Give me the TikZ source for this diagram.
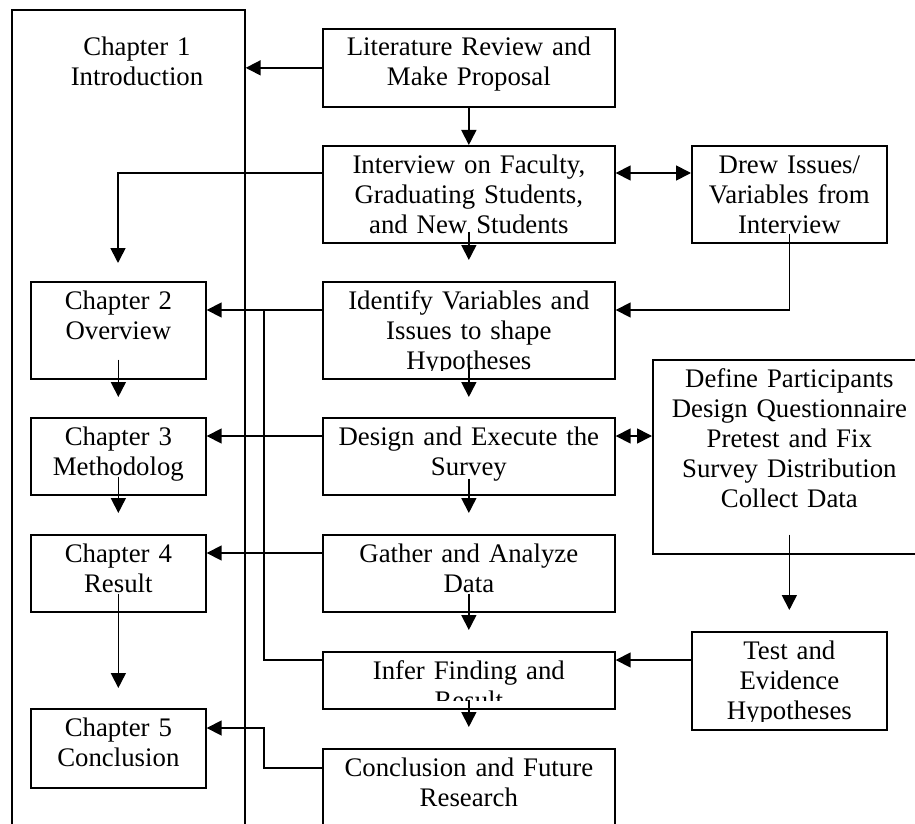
\documentclass[tikz,border=0pt]{standalone}
\usepackage{fontspec}
\setmainfont{Liberation Serif}
\usetikzlibrary{arrows.meta,calc}

% text of a stage box, cut off by the box like in a text frame
\newcommand{\stagetext}[2]{%
  \begin{scope}
    \clip (#1.north west) rectangle ([yshift=4.5pt]#1.south east);
    \node[stagetext] (#1-t) at ([yshift=-14pt]#1.north) {#2};
  \end{scope}}

\begin{document}
\begin{tikzpicture}[x=0.5pt,y=-0.5pt,
	stage/.style 2 args={draw,line width=0.85pt,anchor=north west,inner sep=0pt,minimum width=#1,minimum height=#2},
	stagetext/.style={anchor=base,inner sep=0pt,text width=220pt,align=center,font=\fontsize{13.4}{15}\selectfont},
	link/.style={line width=0.85pt},
	arr/.style={link,-{Triangle[length=7.5pt,width=7.5pt]}},
	dblarr/.style={link,{Triangle[length=7.5pt,width=7.5pt]}-{Triangle[length=7.5pt,width=7.5pt]}}]
	\fill[white] (0,0) rectangle (915,824);
	\useasboundingbox (0,0) rectangle (915,824);

	% left column: chapters
	\node[stage={116.5pt}{415.5pt}] (ch1) at (11,9) {};
	\node[stagetext] (ch1-t) at (137,56) {Chapter 1\\Introduction};
	\node[stage={87.5pt}{48.5pt}] (ch2) at (30,281) {};
	\node[stage={87.5pt}{38.5pt}] (ch3) at (30,417) {};
	\node[stage={87.5pt}{38.5pt}] (ch4) at (30,534) {};
	\node[stage={87.5pt}{39.5pt}] (ch5) at (30,708) {};
	\stagetext{ch2}{Chapter 2\\Overview}
	\stagetext{ch3}{Chapter 3\\Methodolog}
	\stagetext{ch4}{Chapter 4\\Result}
	\stagetext{ch5}{Chapter 5\\Conclusion}

	% middle column: steps
	\node[stage={146pt}{39pt}] (lit) at (322,28) {};
	\node[stage={146pt}{48.5pt}] (interview) at (322,145) {};
	\node[stage={146pt}{48.5pt}] (identify) at (322,281) {};
	\node[stage={146pt}{38.5pt}] (design) at (322,417) {};
	\node[stage={146pt}{38.5pt}] (gather) at (322,534) {};
	\node[stage={146pt}{28.5pt}] (infer) at (322,651) {};
	\node[stage={146pt}{46pt}] (conc) at (322,748) {};
	\stagetext{lit}{Literature Review and\\Make Proposal}
	\stagetext{interview}{Interview on Faculty,\\Graduating Students,\\and New Students}
	\stagetext{identify}{Identify Variables and\\Issues to shape\\Hypotheses}
	\stagetext{design}{Design and Execute the\\Survey}
	\stagetext{gather}{Gather and Analyze\\Data}
	\stagetext{infer}{Infer Finding and\\Result}
	\stagetext{conc}{Conclusion and Future\\Research}

	% right column
	\node[stage={97.5pt}{48.5pt}] (drew) at (691,145) {};
	\node[stage={136.5pt}{97pt}] (define) at (652,359) {};
	\node[stage={97.5pt}{49pt}] (test) at (691,631) {};
	\stagetext{drew}{Drew Issues/\\Variables from\\Interview}
	\stagetext{define}{Define Participants\\Design Questionnaire\\Pretest and Fix\\Survey Distribution\\Collect Data}
	\stagetext{test}{Test and\\Evidence\\Hypotheses}

	\coordinate (drop) at (118,263);
	\coordinate (jn) at (264,310);
	\coordinate (cbend) at (264,768);

	% connectors
	\draw[arr] (lit.west) -- (lit.west -| ch1.east);
	\draw[arr] (lit.south) -- (interview.north);
	\draw[arr] ($(interview.north west)+(0,28)$) -| (drop);
	\draw[dblarr] ($(interview.north east)+(0,28)$) -- ($(drew.north west)+(0,28)$);
	\draw[arr] ($(interview.south)+(0,-12)$) -- ($(identify.north)+(0,-21)$);
	\draw[arr] ($(drew.south)+(0,-10)$) |- ($(identify.north east)+(0,29)$);
	\draw[arr] ($(identify.north west)+(0,29)$) -- ($(ch2.north east)+(0,29)$);
	\draw[link] ($(infer.north west)+(0,9)$) -| (jn);
	\draw[arr] ($(identify.south)+(0,-15)$) -- ($(design.north)+(0,-20)$);
	\draw[arr] ($(design.north west)+(0,19)$) -- ($(ch3.north east)+(0,19)$);
	\draw[dblarr] ($(design.north east)+(0,19)$) -- ($(define.north west)+(0,77)$);
	\draw[arr] ($(design.south)+(0,-17)$) -- ($(gather.north)+(0,-21)$);
	\draw[arr] ($(gather.north west)+(0,19)$) -- ($(ch4.north east)+(0,19)$);
	\draw[arr] ($(define.south)+(0,-20)$) -- ($(test.north)+(0,-21)$);
	\draw[arr] ($(test.north west)+(0,29)$) -- ($(infer.north east)+(0,9)$);
	\draw[arr] ($(gather.south)+(0,-19)$) -- ($(infer.north)+(0,-21)$);
	\draw[arr] ($(infer.south)+(0,-10)$) -- ($(conc.north)+(0,-21)$);
	\draw[arr] ($(conc.north west)+(0,20)$) -- (cbend) |- ($(ch5.north east)+(0,20)$);
	\draw[arr] ($(ch2.south)+(0,-20)$) -- ($(ch3.north)+(0,-20)$);
	\draw[arr] ($(ch3.south)+(0,-19)$) -- ($(ch4.north)+(0,-21)$);
	\draw[arr] ($(ch4.south)+(0,-19)$) -- ($(ch5.north)+(0,-20)$);
\end{tikzpicture}
\end{document}
